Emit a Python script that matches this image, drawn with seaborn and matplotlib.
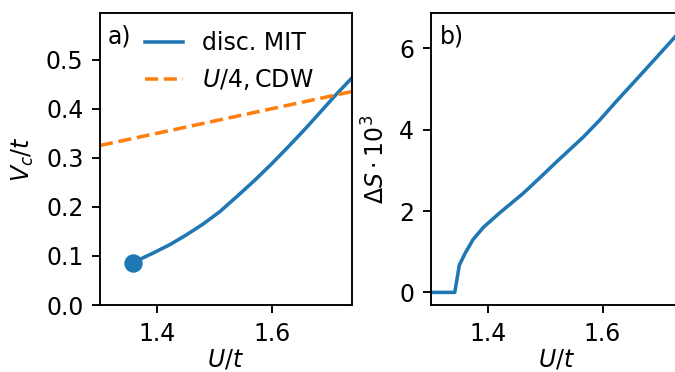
import pandas as pd
import seaborn as sns
import matplotlib.pyplot as plt


# panel a) critical V_c along the discontinuous MIT
u_mit = [1.357, 1.393, 1.422, 1.451, 1.480, 1.509, 1.538, 1.570, 1.600,
         1.630, 1.660, 1.690, 1.710, 1.740]
vc_mit = [0.086, 0.106, 0.123, 0.143, 0.165, 0.190, 0.220, 0.254, 0.288,
          0.324, 0.361, 0.400, 0.426, 0.463]

# U/4 line for CDW
u_cdw = [1.3, 1.74]
vc_cdw = [1.3 / 4, 1.74 / 4]

# panel b) entropy jump (x 10^3)
u_ds = [1.28, 1.342, 1.350, 1.360, 1.374, 1.392, 1.420, 1.461, 1.490, 1.522,
        1.565, 1.594, 1.623, 1.664, 1.693, 1.722, 1.74]
ds = [0.0, 0.0, 0.67, 0.96, 1.30, 1.60, 1.95, 2.43, 2.81, 3.24,
      3.80, 4.22, 4.68, 5.31, 5.76, 6.21, 6.49]

blue = '#1f77b4'
orange = '#ff7f0e'


def main():
    dpi = 170
    W, H = 675, 372
    fig = plt.figure(figsize=(W / dpi, H / dpi), dpi=dpi)
    ax1 = fig.add_axes([100 / W, 67 / H, 252 / W, 292 / H])
    ax2 = fig.add_axes([430.7 / W, 67 / H, 252 / W, 292 / H])

    df_mit = pd.DataFrame({'U': u_mit, 'V': vc_mit})
    df_cdw = pd.DataFrame({'U': u_cdw, 'V': vc_cdw})
    sns.lineplot(data=df_mit, x='U', y='V', color=blue, ax=ax1, label='disc. MIT')
    sns.lineplot(data=df_cdw, x='U', y='V', color=orange, ls='--', ax=ax1,
                 label=r'$U/4, \mathrm{CDW}$')
    ax1.plot(u_mit[0], vc_mit[0], 'o', color=blue, ms=6.8)
    ax1.set_xlim(1.3, 1.74)
    ax1.set_ylim(0, 0.595)
    ax1.set_xlabel(r'$U/t$', labelpad=1)
    ax1.set_ylabel(r'$V_c/t$')
    ax1.text(0.03, 0.96, 'a)', transform=ax1.transAxes, va='top', ha='left')
    ax1.legend(frameon=False, loc='upper left', bbox_to_anchor=(0.094, 1.01),
               handlelength=1.6)

    df_ds = pd.DataFrame({'U': u_ds, 'dS': ds})
    sns.lineplot(data=df_ds, x='U', y='dS', color=blue, ax=ax2)
    ax2.set_xlim(1.3, 1.74)
    ax2.set_ylim(-0.31, 6.87)
    ax2.set_xlabel(r'$U/t$', labelpad=1)
    ax2.set_ylabel(r'$\Delta S \cdot 10^3$')
    ax2.text(0.035, 0.96, 'b)', transform=ax2.transAxes, va='top', ha='left')

    plt.savefig('out.png', dpi=dpi)


if __name__ == '__main__':
    main()
